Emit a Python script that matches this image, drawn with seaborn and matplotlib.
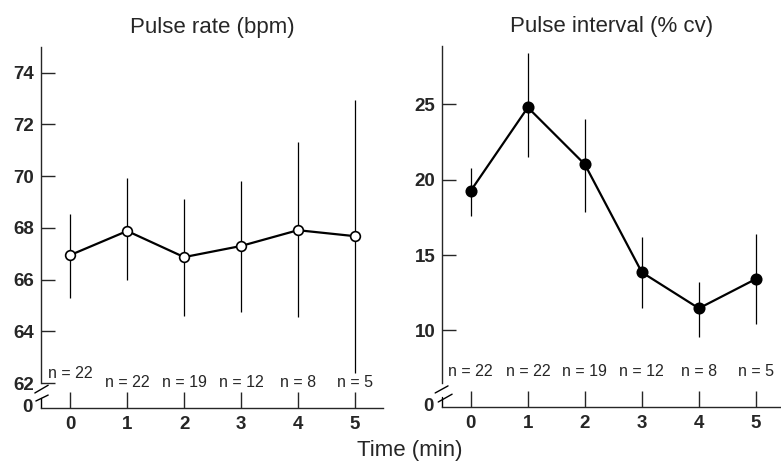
"""Pulse rate / pulse interval over time, two panels with broken y axes."""

import matplotlib
matplotlib.use("Agg")
import matplotlib.pyplot as plt  # noqa: E402
import pandas as pd  # noqa: E402
import seaborn as sns  # noqa: E402

# ---------------- data ----------------
time_min = [0, 1, 2, 3, 4, 5]
n_counts = [22, 22, 19, 12, 8, 5]

rate_mean = [66.95, 67.88, 66.87, 67.30, 67.91, 67.68]
rate_lo = [65.28, 65.98, 64.58, 64.73, 64.54, 62.40]
rate_hi = [68.55, 69.92, 69.13, 69.80, 71.33, 72.94]

cv_mean = [19.27, 24.80, 21.02, 13.85, 11.46, 13.41]
cv_lo = [17.59, 21.52, 17.83, 11.46, 9.54, 10.42]
cv_hi = [20.75, 28.42, 24.00, 16.21, 13.23, 16.37]

rate_ticks = [62, 64, 66, 68, 70, 72, 74]
cv_ticks = [10, 15, 20, 25]

sns.set_style("ticks")
plt.rcParams["font.family"] = ["Liberation Sans", "DejaVu Sans"]
plt.rcParams["axes.linewidth"] = 1.0

fig = plt.figure(figsize=(7.81, 4.63), dpi=100)
ax_l = fig.add_axes([0.0525, 0.1188, 0.4375, 0.7803])
ax_r = fig.add_axes([0.5663, 0.1210, 0.4337, 0.7803])


def draw_panel(ax, mean, lo, hi, filled, ylim, yticks, spine_top, low_seg, slashes,
               n_y, title):
    df = pd.DataFrame({"time": time_min, "value": mean, "lo": lo, "hi": hi})
    ax.vlines(df["time"], df["lo"], df["hi"], color="black", lw=0.9, zorder=1)
    sns.lineplot(data=df, x="time", y="value", ax=ax, color="black", lw=1.6,
                 marker="o", markersize=7.5 if filled else 7,
                 markerfacecolor="black" if filled else "white",
                 markeredgecolor="black", markeredgewidth=1.2, zorder=3)
    ax.set_ylim(*ylim)
    ax.set_yticks(yticks)
    ax.set_xticks(time_min)
    ax.set_xlabel("")
    ax.set_ylabel("")
    ax.tick_params(axis="both", direction="in", width=1.0, labelsize=13.5)
    ax.tick_params(axis="x", length=11.5, pad=6)
    ax.tick_params(axis="y", length=10, pad=5)
    for lab in ax.get_xticklabels() + ax.get_yticklabels():
        lab.set_fontweight("bold")
    sns.despine(ax=ax)
    ax.spines["left"].set_bounds(yticks[0] if spine_top is None else spine_top, ylim[1])

    # broken-axis marks: lower stub of the spine, two slashes, "0" label
    tr = ax.get_yaxis_transform()
    ax.plot([0, 0], [ylim[0], low_seg], transform=tr, color="black", lw=1.0,
            clip_on=False)
    for (x0, y0), (x1, y1) in slashes:
        ax.plot([x0, x1], [y0, y1], transform=tr, color="black", lw=1.0, clip_on=False)
    ax.text(-0.025, ylim[0], "0", transform=tr, ha="right", va="center",
            fontsize=13.5, fontweight="bold")

    for t, n, y in zip(time_min, n_counts, n_y):
        ax.text(t, y, f"n = {n}", ha="center", va="center", fontsize=11.5)
    ax.set_title(title, fontsize=16, pad=10)


draw_panel(ax_l, rate_mean, rate_lo, rate_hi, False, (61.04, 75.0), rate_ticks,
           None, 61.42,
           [((-0.018, 61.62), (0.021, 61.92)), ((-0.015, 61.31), (0.021, 61.54))],
           [62.38, 62.04, 62.04, 62.04, 62.04, 62.04], "Pulse rate (bpm)")
ax_l.set_xlim(-0.515, 5.49)

draw_panel(ax_r, cv_mean, cv_lo, cv_hi, True, (4.91, 28.9), cv_ticks,
           6.51, 5.58,
           [((-0.021, 5.84), (0.017, 6.31)), ((-0.012, 5.24), (0.029, 5.76))],
           [7.24] * 6, "Pulse interval (% cv)")
ax_r.set_xlim(-0.50, 5.44)

fig.text(0.525, 0.028, "Time (min)", ha="center", va="center", fontsize=16)

fig.savefig("out.png", dpi=100)
plt.close(fig)
